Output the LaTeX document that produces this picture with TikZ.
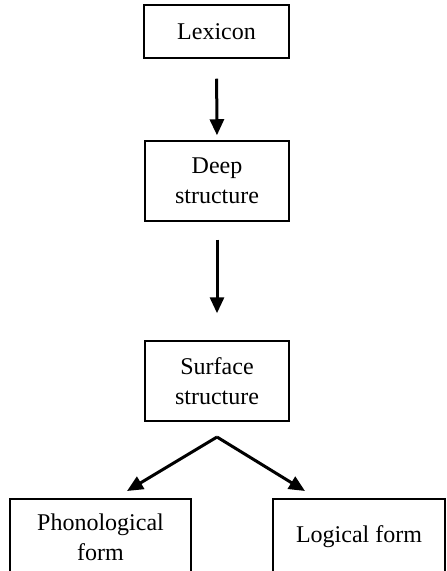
\documentclass[tikz,border=0pt]{standalone}
\usepackage{fontspec}
\setmainfont{Liberation Serif}
\usetikzlibrary{arrows.meta}
\begin{document}
\begin{tikzpicture}[x=0.5pt,y=-0.5pt,
  box/.style={draw,line width=0.75pt,inner sep=0pt,align=center,
    font=\fontsize{12}{15}\selectfont},
  arr/.style={line width=1.5pt,-{Triangle[length=8pt,width=7pt]}}]
\useasboundingbox (0,0) rectangle (446,571);
\clip (0,0) rectangle (446,571);
\node[box,minimum width=72.5pt,minimum height=26.5pt] (lex) at (216.5,31.5) {Lexicon};
\node[box,minimum width=72pt,minimum height=40pt] (deep) at (217,181) {Deep\\structure};
\node[box,minimum width=72pt,minimum height=40pt] (surf) at (217,381) {Surface\\structure};
\node[box,minimum width=90.5pt,minimum height=38pt] (phon) at (100.5,537) {Phonological\\form};
\node[box,minimum width=86pt,minimum height=38pt] (log) at (359,537) {Logical form};
\coordinate (apex) at (217,437);
\coordinate (tipL) at (127,491);
\coordinate (tipR) at (305,491);
\draw[arr,shorten <=10pt,shorten >=2.5pt] (lex.south) -- (deep.north);
\draw[arr,shorten <=9pt,shorten >=13.5pt] (deep.south) -- (surf.north);
\draw[arr] (apex) -- (tipL);
\draw[arr] (apex) -- (tipR);
\end{tikzpicture}
\end{document}
